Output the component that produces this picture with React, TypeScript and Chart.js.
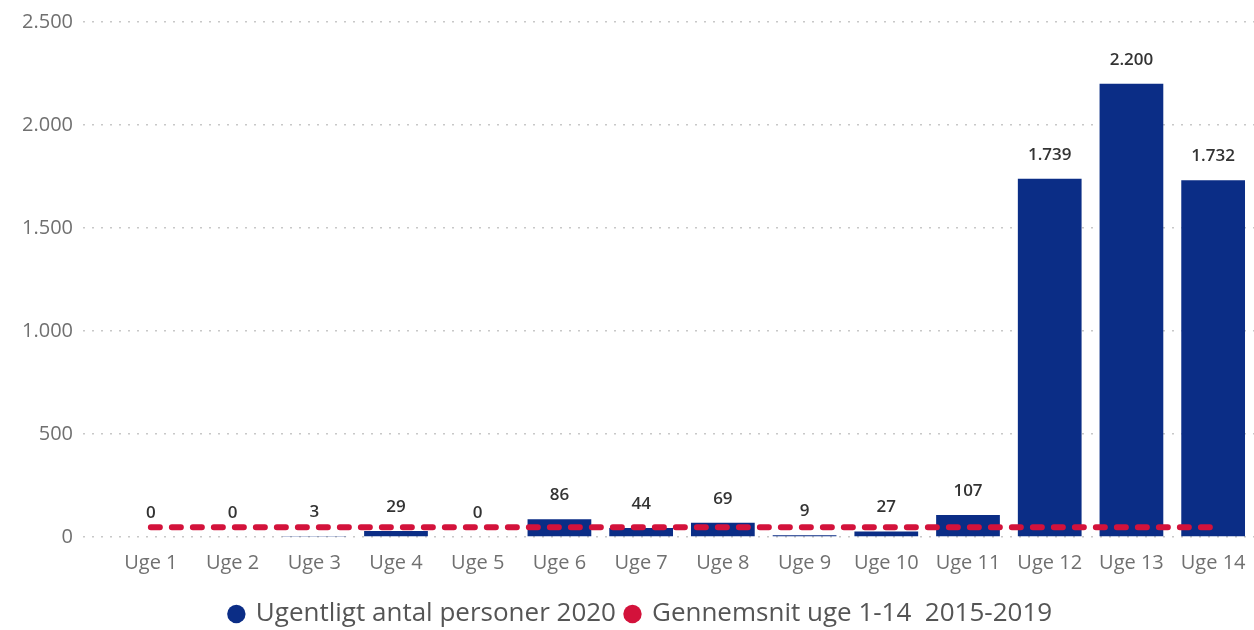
import { useEffect, useRef } from "react";
import { Chart, registerables } from "chart.js";

Chart.register(...registerables);

const categories = ["Uge 1", "Uge 2", "Uge 3", "Uge 4", "Uge 5", "Uge 6", "Uge 7", "Uge 8", "Uge 9", "Uge 10", "Uge 11", "Uge 12", "Uge 13", "Uge 14"];
const weeklyPersons2020 = [0, 0, 3, 29, 0, 86, 44, 69, 9, 27, 107, 1739, 2200, 1732];
const average20152019 = [47, 47, 47, 47, 47, 47, 47, 47, 47, 47, 47, 47, 47, 47];
const yTicks = [0, 500, 1000, 1500, 2000, 2500];
const seriesNames = ["Ugentligt antal personer 2020", "Gennemsnit uge 1-14  2015-2019"];

const BAR_COLOR = "#0b2d86";
const LINE_COLOR = "#d3123b";
const FONT = "'Open Sans', 'Noto Sans', sans-serif";

const fmt = (v: number) => String(v).replace(/\B(?=(\d{3})+(?!\d))/g, ".");

const valueLabels = {
  id: "valueLabels",
  afterDatasetsDraw(chart: any) {
    const ctx = chart.ctx;
    const meta = chart.getDatasetMeta(0);
    ctx.save();
    ctx.font = `600 17px ${FONT}`;
    ctx.fillStyle = "#333333";
    ctx.textAlign = "center";
    ctx.textBaseline = "middle";
    meta.data.forEach((el: any, i: number) => {
      ctx.fillText(fmt(weeklyPersons2020[i]), el.x, el.y - 24);
    });
    ctx.restore();
  },
};

const legendShift = {
  id: "legendShift",
  afterLayout(chart: any) {
    const lg = chart.legend;
    if (lg) {
      lg.top += 10;
      lg.bottom += 10;
      lg.left += 8;
      lg.right += 8;
    }
  },
};

export default function App() {
  const ref = useRef<HTMLCanvasElement>(null);
  useEffect(() => {
    document.body.style.margin = "0";
    const chart = new Chart(ref.current!, {
      type: "bar",
      data: {
        labels: categories,
        datasets: [
          {
            type: "bar",
            label: seriesNames[0],
            data: weeklyPersons2020,
            backgroundColor: BAR_COLOR,
            barPercentage: 0.78,
            categoryPercentage: 1,
            order: 1,
          } as any,
          {
            type: "line",
            label: seriesNames[1],
            data: average20152019,
            borderColor: LINE_COLOR,
            backgroundColor: LINE_COLOR,
            borderWidth: 6,
            borderDash: [9, 12],
            borderCapStyle: "round",
            pointRadius: 0,
            fill: false,
            order: 0,
          } as any,
        ],
      },
      options: {
        animation: false,
        responsive: true,
        maintainAspectRatio: false,
        layout: { padding: { left: 12, right: 0, top: 4, bottom: 3 } },
        plugins: {
          tooltip: { enabled: false },
          legend: {
            position: "bottom",
            labels: {
              usePointStyle: true,
              boxWidth: 13,
              boxHeight: 13,
              padding: 10,
              color: "#555555",
              font: { family: FONT, size: 26 },
              generateLabels: () => [
                { text: seriesNames[0], fillStyle: BAR_COLOR, strokeStyle: BAR_COLOR, lineWidth: 0, pointStyle: "circle", hidden: false, datasetIndex: 0, fontColor: "#555555" },
                { text: seriesNames[1], fillStyle: LINE_COLOR, strokeStyle: LINE_COLOR, lineWidth: 0, pointStyle: "circle", hidden: false, datasetIndex: 1, fontColor: "#555555" },
              ] as any,
            },
          },
        },
        scales: {
          x: {
            offset: true,
            grid: { display: false },
            border: { display: false },
            ticks: {
              color: "#707070",
              font: { family: FONT, size: 20 },
              padding: 6,
              maxRotation: 0,
              autoSkip: false,
            },
          },
          y: {
            min: 0,
            max: 2500,
            afterBuildTicks: (axis: any) => {
              axis.ticks = yTicks.map((v) => ({ value: v }));
            },
            border: { display: false, dash: [2, 7] },
            grid: {
              color: "#c8c8c8",
              lineWidth: 1.5,
              drawTicks: true,
              tickLength: 27,
              tickColor: "#c8c8c8",
              tickBorderDash: [2, 7],
            },
            ticks: {
              color: "#707070",
              font: { family: FONT, size: 20 },
              padding: 10,
              callback: (v: any) => fmt(Number(v)),
            },
          },
        },
      },
      plugins: [valueLabels, legendShift],
    });
    return () => chart.destroy();
  }, []);
  return (
    <div style={{ width: 1254, height: 630, position: "relative" }}>
      <canvas ref={ref} />
    </div>
  );
}
